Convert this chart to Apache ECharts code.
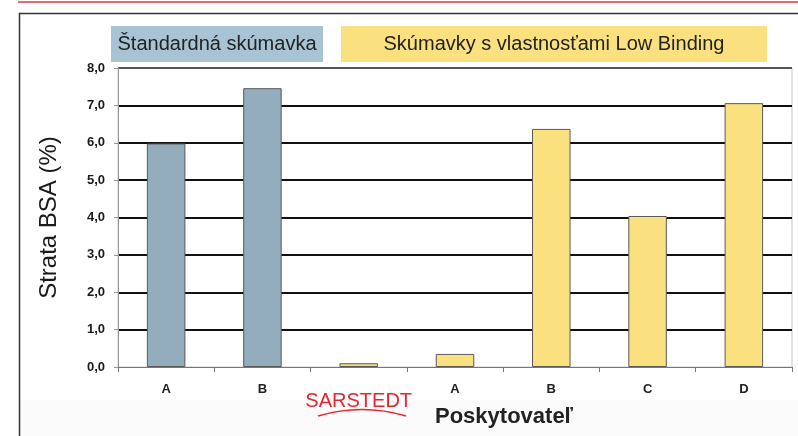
<!DOCTYPE html>
<html>
<head>
<meta charset="utf-8">
<script src="https://cdn.jsdelivr.net/npm/echarts@6/dist/echarts.min.js"></script>
<style>
    html, body { margin: 0; padding: 0; background: #fff; }
    #chart { width: 798px; height: 436px; }
</style>
</head>
<body>
<div id="chart"></div>
<script>
// data
var providers = ['A', 'B', 'SARSTEDT', 'A', 'B', 'C', 'D'];
var bsaLoss = [5.98, 7.46, 0.10, 0.35, 6.37, 4.04, 7.06];
var tubeGroup = [0, 0, 1, 1, 1, 1, 1];   // 0 = standard, 1 = low binding
var groupNames = ['Štandardná skúmavka', 'Skúmavky s vlastnosťami Low Binding'];
var yMax = 8;
var yStep = 1;

(function () {
    var myChart = echarts.init(document.getElementById('chart'));
    var barColors = ['#94adbc', '#fbe07f'];
    var boxColors = ['#a8c4d4', '#fbe07f'];
    var font = 'Liberation Sans, Arial, sans-serif';

    // splitLine colours by tick: hide the 0 line (axis line sits there), grey top line
    var gridColors = [];
    for (var i = 0; i <= yMax / yStep; i++) {
        gridColors.push(i === 0 ? 'rgba(0,0,0,0)' : (i === yMax / yStep ? '#555' : '#111'));
    }

    var option = {
        animation: false,
        backgroundColor: '#fff',
        textStyle: { fontFamily: font },
        title: {
            text: 'Poskytovateľ',
            left: 430,
            top: 401,
            textStyle: { fontSize: 22, fontWeight: 'bold', color: '#222', fontFamily: font }
        },
        grid: {
            left: 118, right: 6, top: 68, bottom: 69,
            show: true,
            borderColor: '#c8c8c8',
            borderWidth: 1
        },
        xAxis: {
            type: 'category',
            data: providers,
            axisLine: { lineStyle: { color: '#777', width: 1 } },
            axisTick: { show: true, length: 5, lineStyle: { color: '#777' } },
            axisLabel: {
                margin: 16,
                interval: 0,
                formatter: function (v) {
                    return v === 'SARSTEDT' ? '{s|' + v + '}' : '{n|' + v + '}';
                },
                rich: {
                    n: { fontSize: 13, fontWeight: 'bold', color: '#222', fontFamily: font },
                    s: { fontSize: 20, color: '#e3262f', fontFamily: font, padding: [8, 0, 0, 0] }
                }
            }
        },
        yAxis: {
            type: 'value',
            min: 0,
            max: yMax,
            interval: yStep,
            name: 'Strata BSA (%)',
            nameLocation: 'middle',
            nameGap: 57,
            nameTextStyle: { fontSize: 24, color: '#1a1a1a', fontFamily: font },
            axisLine: { show: true, lineStyle: { color: '#999' } },
            axisTick: { show: true, length: 4, lineStyle: { color: '#999' } },
            axisLabel: {
                margin: 13,
                fontSize: 13,
                fontWeight: 'bold',
                color: '#1a1a1a',
                formatter: function (v) { return v.toFixed(1).replace('.', ','); }
            },
            splitLine: { show: true, lineStyle: { color: gridColors, width: 2 } }
        },
        series: [{
            type: 'bar',
            barWidth: '40%',
            data: bsaLoss.map(function (v, i) {
                return { value: v, itemStyle: { color: barColors[tubeGroup[i]] } };
            }),
            itemStyle: { borderColor: '#5a5a5a', borderWidth: 1 }
        }],
        graphic: [
            // page frame
            { type: 'rect', shape: { x: 20, y: 400, width: 778, height: 36 }, style: { fill: '#fbfbfb' }, z: -10 },
            { type: 'line', shape: { x1: 18, y1: 2, x2: 798, y2: 2 }, style: { stroke: '#e8696e', lineWidth: 2 } },
            { type: 'line', shape: { x1: 19, y1: 13.5, x2: 798, y2: 13.5 }, style: { stroke: '#333', lineWidth: 1.5 } },
            { type: 'line', shape: { x1: 19.5, y1: 13, x2: 19.5, y2: 436 }, style: { stroke: '#333', lineWidth: 1.5 } },
            // group boxes
            {
                type: 'group', left: 111, top: 26,
                children: [
                    { type: 'rect', shape: { x: 0, y: 0, width: 212, height: 36 }, style: { fill: boxColors[0] } },
                    { type: 'text', x: 106, y: 18, style: { text: groupNames[0], fontSize: 20, fontFamily: font, fill: '#222', align: 'center', verticalAlign: 'middle' } }
                ]
            },
            {
                type: 'group', left: 341, top: 26,
                children: [
                    { type: 'rect', shape: { x: 0, y: 0, width: 426, height: 36 }, style: { fill: boxColors[1] } },
                    { type: 'text', x: 213, y: 18, style: { text: groupNames[1], fontSize: 20, fontFamily: font, fill: '#222', align: 'center', verticalAlign: 'middle' } }
                ]
            },
            // swoosh under SARSTEDT
            {
                type: 'bezierCurve',
                shape: { x1: 318, y1: 416, cpx1: 362, cpy1: 403, x2: 406, y2: 416 },
                style: { stroke: '#e3262f', lineWidth: 1.5, fill: null }
            }
        ]
    };

    myChart.setOption(option);
    window.addEventListener('resize', function () {
        myChart.resize();
    });
})();
</script>
</body>
</html>
